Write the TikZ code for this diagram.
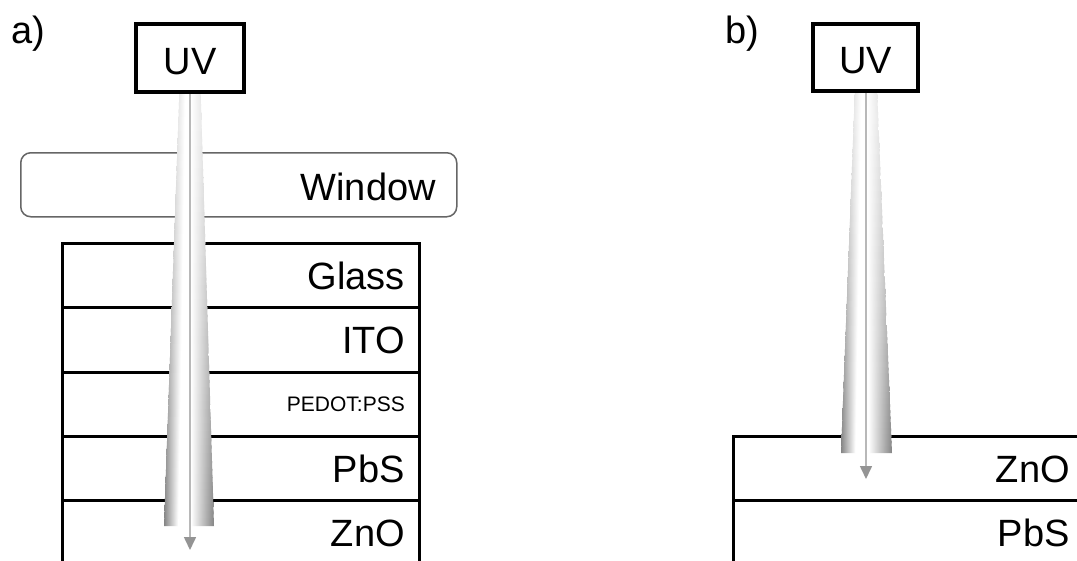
\documentclass[tikz,border=0pt]{standalone}
\usepackage{fontspec}
\setmainfont{Liberation Sans}
\usetikzlibrary{arrows.meta}

% Cross profile of the beam: grey edge, white core a little left of centre.
% (TikZ maps the 25bp..75bp range onto the path's width.)
\colorlet{beamedge}{black!20}
\pgfdeclarehorizontalshading[beamedge]{beamshade}{100bp}{%
  color(0bp)=(beamedge); color(25bp)=(beamedge); color(39bp)=(white);
  color(52bp)=(white); color(75bp)=(beamedge); color(100bp)=(beamedge)}

% Tapered UV beam built from thin horizontal strips, getting darker
% towards the bottom.
% #1 top centre x, #2 top y, #3 top half width,
% #4 bottom centre x, #5 bottom y, #6 bottom half width
\newcommand{\uvbeam}[6]{%
  \foreach \i in {0,...,59}{%
    \pgfmathsetmacro{\ta}{\i/60}%
    \pgfmathsetmacro{\tb}{min((\i+1.4)/60,1)}%
    \pgfmathsetmacro{\ya}{#2+(#5-#2)*\ta}%
    \pgfmathsetmacro{\yb}{#2+(#5-#2)*\tb}%
    \pgfmathsetmacro{\xal}{(#1-#3)+((#4-#6)-(#1-#3))*\ta}%
    \pgfmathsetmacro{\xar}{(#1+#3)+((#4+#6)-(#1+#3))*\ta}%
    \pgfmathsetmacro{\xbl}{(#1-#3)+((#4-#6)-(#1-#3))*\tb}%
    \pgfmathsetmacro{\xbr}{(#1+#3)+((#4+#6)-(#1+#3))*\tb}%
    \pgfmathtruncatemacro{\tone}{9+40*\ta^1.5}%
    \colorlet{beamedge}{black!\tone}%
    \shade[shading=beamshade]
      (\xal,\ya) -- (\xar,\ya) -- (\xbr,\yb) -- (\xbl,\yb) -- cycle;
  }%
}

\tikzset{
  bigtext/.style={font=\fontsize{38}{40}\selectfont, inner sep=0pt},
  smalltext/.style={font=\fontsize{21}{23}\selectfont, inner sep=0pt},
  layerbox/.style={draw=black, line width=3pt, fill=white, inner sep=0pt,
    minimum width=#1, minimum height=64.3pt, anchor=north west},
  uvbox/.style={draw=black, line width=4pt, fill=white, inner sep=0pt, anchor=north west},
  windowbox/.style={draw=black!60, line width=1.5pt, rounded corners=10pt, fill=white,
    inner sep=0pt, minimum width=436pt, minimum height=64pt, anchor=north west},
  rayline/.style={draw=black!28, line width=1.6pt,
    -{Triangle[width=12pt,length=13pt,color=black!42,fill=black!42]}},
}

\begin{document}
\begin{tikzpicture}[x=1pt,y=-1pt]
  \useasboundingbox (0,0) rectangle (1077,560);
  \begin{scope}
  \clip (0,0) rectangle (1077,560);

  % ---------------- a) ----------------
  \node[bigtext, anchor=base west] (lbla) at (11,43) {a)};

  \node[windowbox, minimum width=436pt] (window) at (20,152) {};
  \node[bigtext, anchor=base east] (twindow) at (436,200) {Window};

  \node[layerbox=357pt] (glass) at (61,242) {};
  \node[layerbox=357pt] (ito)   at (61,306.3) {};
  \node[layerbox=357pt] (pedot) at (61,370.6) {};
  \node[layerbox=357pt] (pbsa)  at (61,434.9) {};
  \node[layerbox=357pt] (znoa)  at (61,499.2) {};
  \node[bigtext, anchor=base east] (tglass) at ([xshift=-16pt,yshift=-14pt]glass.east) {Glass};
  \node[bigtext, anchor=base east] (tito)   at ([xshift=-16pt,yshift=-14pt]ito.east) {ITO};
  \node[smalltext, anchor=base east] (tpedot) at ([xshift=-16pt,yshift=-7pt]pedot.east) {PEDOT:PSS};
  \node[bigtext, anchor=base east] (tpbsa)  at ([xshift=-16pt,yshift=-14pt]pbsa.east) {PbS};
  \node[bigtext, anchor=base east] (tznoa)  at ([xshift=-16pt,yshift=-14pt]znoa.east) {ZnO};

  \uvbeam{190}{88}{10.5}{189}{526}{25}
  \coordinate (asrc) at (190,88);
  \coordinate (atip) at (190,550);
  \draw[rayline] (asrc) -- (atip);

  \node[uvbox, minimum width=108pt, minimum height=68pt] (uva) at (134,22) {};
  \node[bigtext, anchor=base] (tuva) at ([yshift=-16pt]uva.center) {UV};

  % ---------------- b) ----------------
  \node[bigtext, anchor=base west] (lblb) at (725,43) {b)};

  \node[layerbox=400pt] (znob) at (732,434.7) {};
  \node[layerbox=400pt] (pbsb) at (732,499.0) {};
  \node[bigtext, anchor=base east] (tznob) at (1070,482) {ZnO};
  \node[bigtext, anchor=base east] (tpbsb) at (1070,546) {PbS};

  \uvbeam{866}{88}{11}{866.5}{453}{25.5}
  \coordinate (bsrc) at (866,88);
  \coordinate (btip) at (866,479);
  \draw[rayline] (bsrc) -- (btip);

  \node[uvbox, minimum width=105pt, minimum height=67pt] (uvb) at (811,22) {};
  \node[bigtext, anchor=base] (tuvb) at ([yshift=-16pt]uvb.center) {UV};
  \end{scope}
\end{tikzpicture}
\end{document}
